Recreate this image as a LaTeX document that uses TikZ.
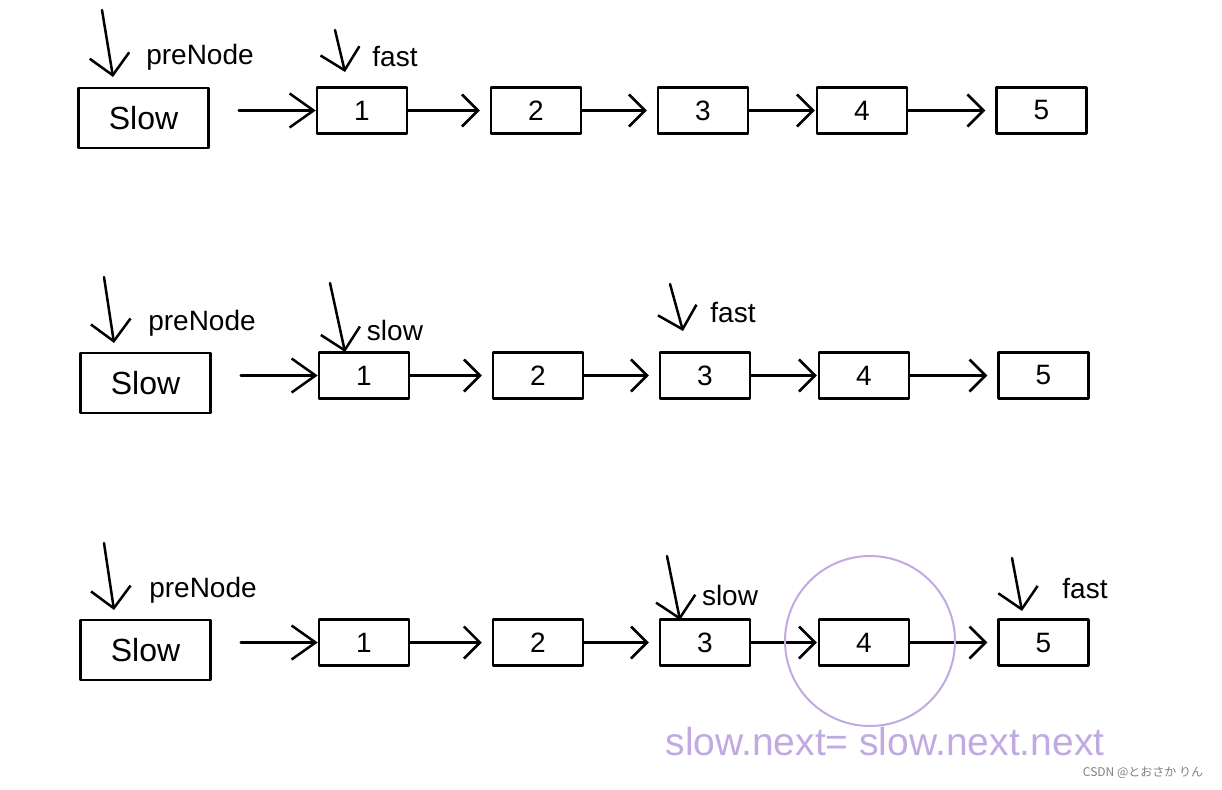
\documentclass[tikz,border=0pt]{standalone}
\usepackage{fontspec}
\setmainfont{Liberation Sans}
\newfontfamily\jpfont{Noto Sans CJK JP}
\usetikzlibrary{arrows.meta}
\definecolor{lilac}{RGB}{192,170,225}

\begin{document}
\begin{tikzpicture}[x=1pt,y=-1pt,line join=round,line cap=round,line width=2.5pt,
	>={Straight Barb[length=16pt,width=32pt]},
	box/.style={draw,minimum width=90pt,minimum height=46pt,inner sep=0pt,font=\fontsize{28}{28}\selectfont},
	headbox/.style={draw,minimum width=130pt,minimum height=60pt,inner sep=0pt,font=\fontsize{32}{32}\selectfont},
	lbl/.style={inner sep=0pt,font=\fontsize{28}{28}\selectfont},
	ptr/.style={->,>={Straight Barb[length=20pt,width=40pt]}}]
				\useasboundingbox (0,0) rectangle (1222,789);
				\foreach \r/\dx/\dy in {1/0/0,2/2/265,3/2/532}{
					\begin{scope}[shift={(\dx,\dy)}]
						\node[headbox] (s\r) at (143.5,118) {Slow};
						\foreach \k/\x in {1/362,2/536,3/703,4/862,5/1041.5}
						\node[box] (n\r\k) at (\x,110.5) {\k};
						\draw[->,>={Straight Barb[length=24pt,width=34pt]},shorten <=29pt] (s\r.east |- n\r1) -- (n\r1.west);
						\foreach \a/\b/\g in {1/2/10,2/3/10,3/4/1,4/5/10}
						\draw[->,shorten >=\g pt] (n\r\a) -- (n\r\b);
					\end{scope}
				}
				\path
				(102,10) coordinate (pre1a) (113,77) coordinate (pre1b)
				(335,30) coordinate (fast1a) (345,72) coordinate (fast1b)
				(104,277) coordinate (pre2a) (114,343) coordinate (pre2b)
				(330,283) coordinate (slow2a) (345,352) coordinate (slow2b)
				(670,284) coordinate (fast2a) (683,331) coordinate (fast2b)
				(104,543) coordinate (pre3a) (114,610) coordinate (pre3b)
				(667,556) coordinate (slow3a) (680,620) coordinate (slow3b)
				(1012,558) coordinate (fast3a) (1022,611) coordinate (fast3b)
				;
				\foreach \p in {pre1,fast1,pre2,slow2,fast2,pre3,slow3,fast3} \draw[ptr] (\p a) -- (\p b);
				\node[lbl] (lpre1) at (200,57) {preNode};
				\node[lbl] (lfast1) at (395,57) {fast};
				\node[lbl] (lpre2) at (202,323) {preNode};
				\node[lbl] (lslow2) at (395,330) {slow};
				\node[lbl] (lfast2) at (733,313) {fast};
				\node[lbl] (lpre3) at (203,590) {preNode};
				\node[lbl] (lslow3) at (730,595) {slow};
				\node[lbl] (lfast3) at (1085,588) {fast};
				% the step that is taken
				\node[draw=lilac,line width=2pt,circle,minimum size=170pt] (ring) at (870,641) {};
				\node[text=lilac,inner sep=0pt,font=\fontsize{39}{39}\selectfont] (rule) at (885,742) {slow.next= slow.next.next};
				\node[text=gray,inner sep=0pt,font=\jpfont\fontsize{12}{12}\selectfont] (mark) at (1143,773) {CSDN @とおさか りん};
\end{tikzpicture}
\end{document}
